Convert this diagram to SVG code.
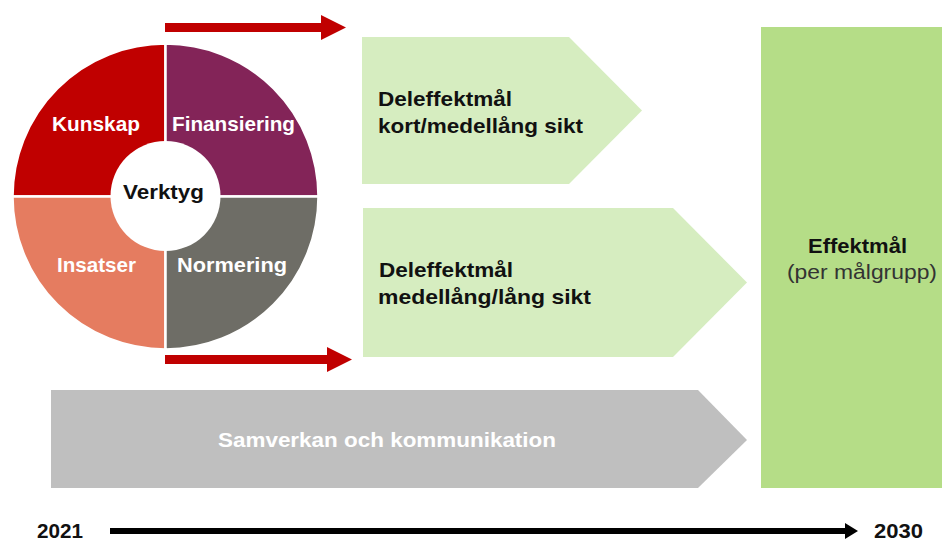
<svg xmlns="http://www.w3.org/2000/svg" width="942" height="541" viewBox="0 0 942 541">
<defs>
<style>
.q{stroke:#fff;stroke-width:2.5}
.qt{font-family:"Liberation Sans",Arial,sans-serif;font-weight:bold;font-size:21px;fill:#fff;text-anchor:middle}
.bt{font-family:"Liberation Sans",Arial,sans-serif;font-weight:bold;font-size:21px;fill:#111}
.red{fill:#C00000}
.lg{fill:#D6EDC0}
</style>
</defs>
<rect width="942" height="541" fill="#fff"/>
<g id="connectors">
<path class="red" d="M165,23 H321 V15 L346,27.5 L321,40 V32 H165 Z"/>
<path class="red" d="M165,355 H327 V347 L352,359.5 L327,372 V364 H165 Z"/>
<path d="M110,528 H845 V523 L858,531 L845,539 V534 H110 Z" fill="#000"/>
</g>
<g id="wheel">
<g id="kunskap"><path class="q" fill="#C00000" d="M165.5,196.5 L12.5,196.5 A153,153 0 0 1 165.5,43.5 Z"/><text class="qt" x="96" y="131" textLength="88" lengthAdjust="spacingAndGlyphs">Kunskap</text></g>
<g id="finansiering"><path class="q" fill="#832458" d="M165.5,196.5 L165.5,43.5 A153,153 0 0 1 318.5,196.5 Z"/><text class="qt" x="233.5" y="131" textLength="123" lengthAdjust="spacingAndGlyphs">Finansiering</text></g>
<g id="insatser"><path class="q" fill="#E57C60" d="M165.5,196.5 L165.5,349.5 A153,153 0 0 1 12.5,196.5 Z"/><text class="qt" x="96.5" y="272" textLength="79" lengthAdjust="spacingAndGlyphs">Insatser</text></g>
<g id="normering"><path class="q" fill="#6E6D66" d="M165.5,196.5 L318.5,196.5 A153,153 0 0 1 165.5,349.5 Z"/><text class="qt" x="232" y="272" textLength="110" lengthAdjust="spacingAndGlyphs">Normering</text></g>
<g id="verktyg"><circle cx="165.5" cy="196" r="55" fill="#fff"/><text class="bt" x="163.5" y="199" text-anchor="middle" textLength="81" lengthAdjust="spacingAndGlyphs">Verktyg</text></g>
</g>
<g id="delmal1"><path class="lg" d="M362,37 H569 L642,110.5 L569,184 H362 Z"/>
<text class="bt" x="378" y="106" textLength="134" lengthAdjust="spacingAndGlyphs">Deleffektmål</text><text class="bt" x="378" y="133" textLength="205" lengthAdjust="spacingAndGlyphs">kort/medellång sikt</text></g>
<g id="delmal2"><path class="lg" d="M363,208 H673 L747,282.5 L673,357 H363 Z"/>
<text class="bt" x="379" y="277" textLength="134" lengthAdjust="spacingAndGlyphs">Deleffektmål</text><text class="bt" x="378" y="304" textLength="213" lengthAdjust="spacingAndGlyphs">medellång/lång sikt</text></g>
<g id="effektmal"><rect x="761" y="27" width="181" height="461" fill="#B5DD87"/>
<text class="bt" x="857.5" y="253" text-anchor="middle" fill="#1a1a1a" textLength="99" lengthAdjust="spacingAndGlyphs">Effektmål</text>
<text x="862" y="279" text-anchor="middle" font-family="'Liberation Sans',Arial,sans-serif" font-size="20" fill="#333" textLength="150" lengthAdjust="spacingAndGlyphs">(per målgrupp)</text></g>
<g id="samverkan"><path d="M51,390 H698 L747,440 L698,488 H51 Z" fill="#BFBFBF"/>
<text class="qt" x="387" y="447" fill="#F2F2F2" textLength="338" lengthAdjust="spacingAndGlyphs">Samverkan och kommunikation</text></g>
<g id="years">
<text class="bt" x="37" y="538" font-size="19" textLength="46" lengthAdjust="spacingAndGlyphs">2021</text>
<text class="bt" x="874" y="538" font-size="19" textLength="49" lengthAdjust="spacingAndGlyphs">2030</text>
</g>
</svg>
